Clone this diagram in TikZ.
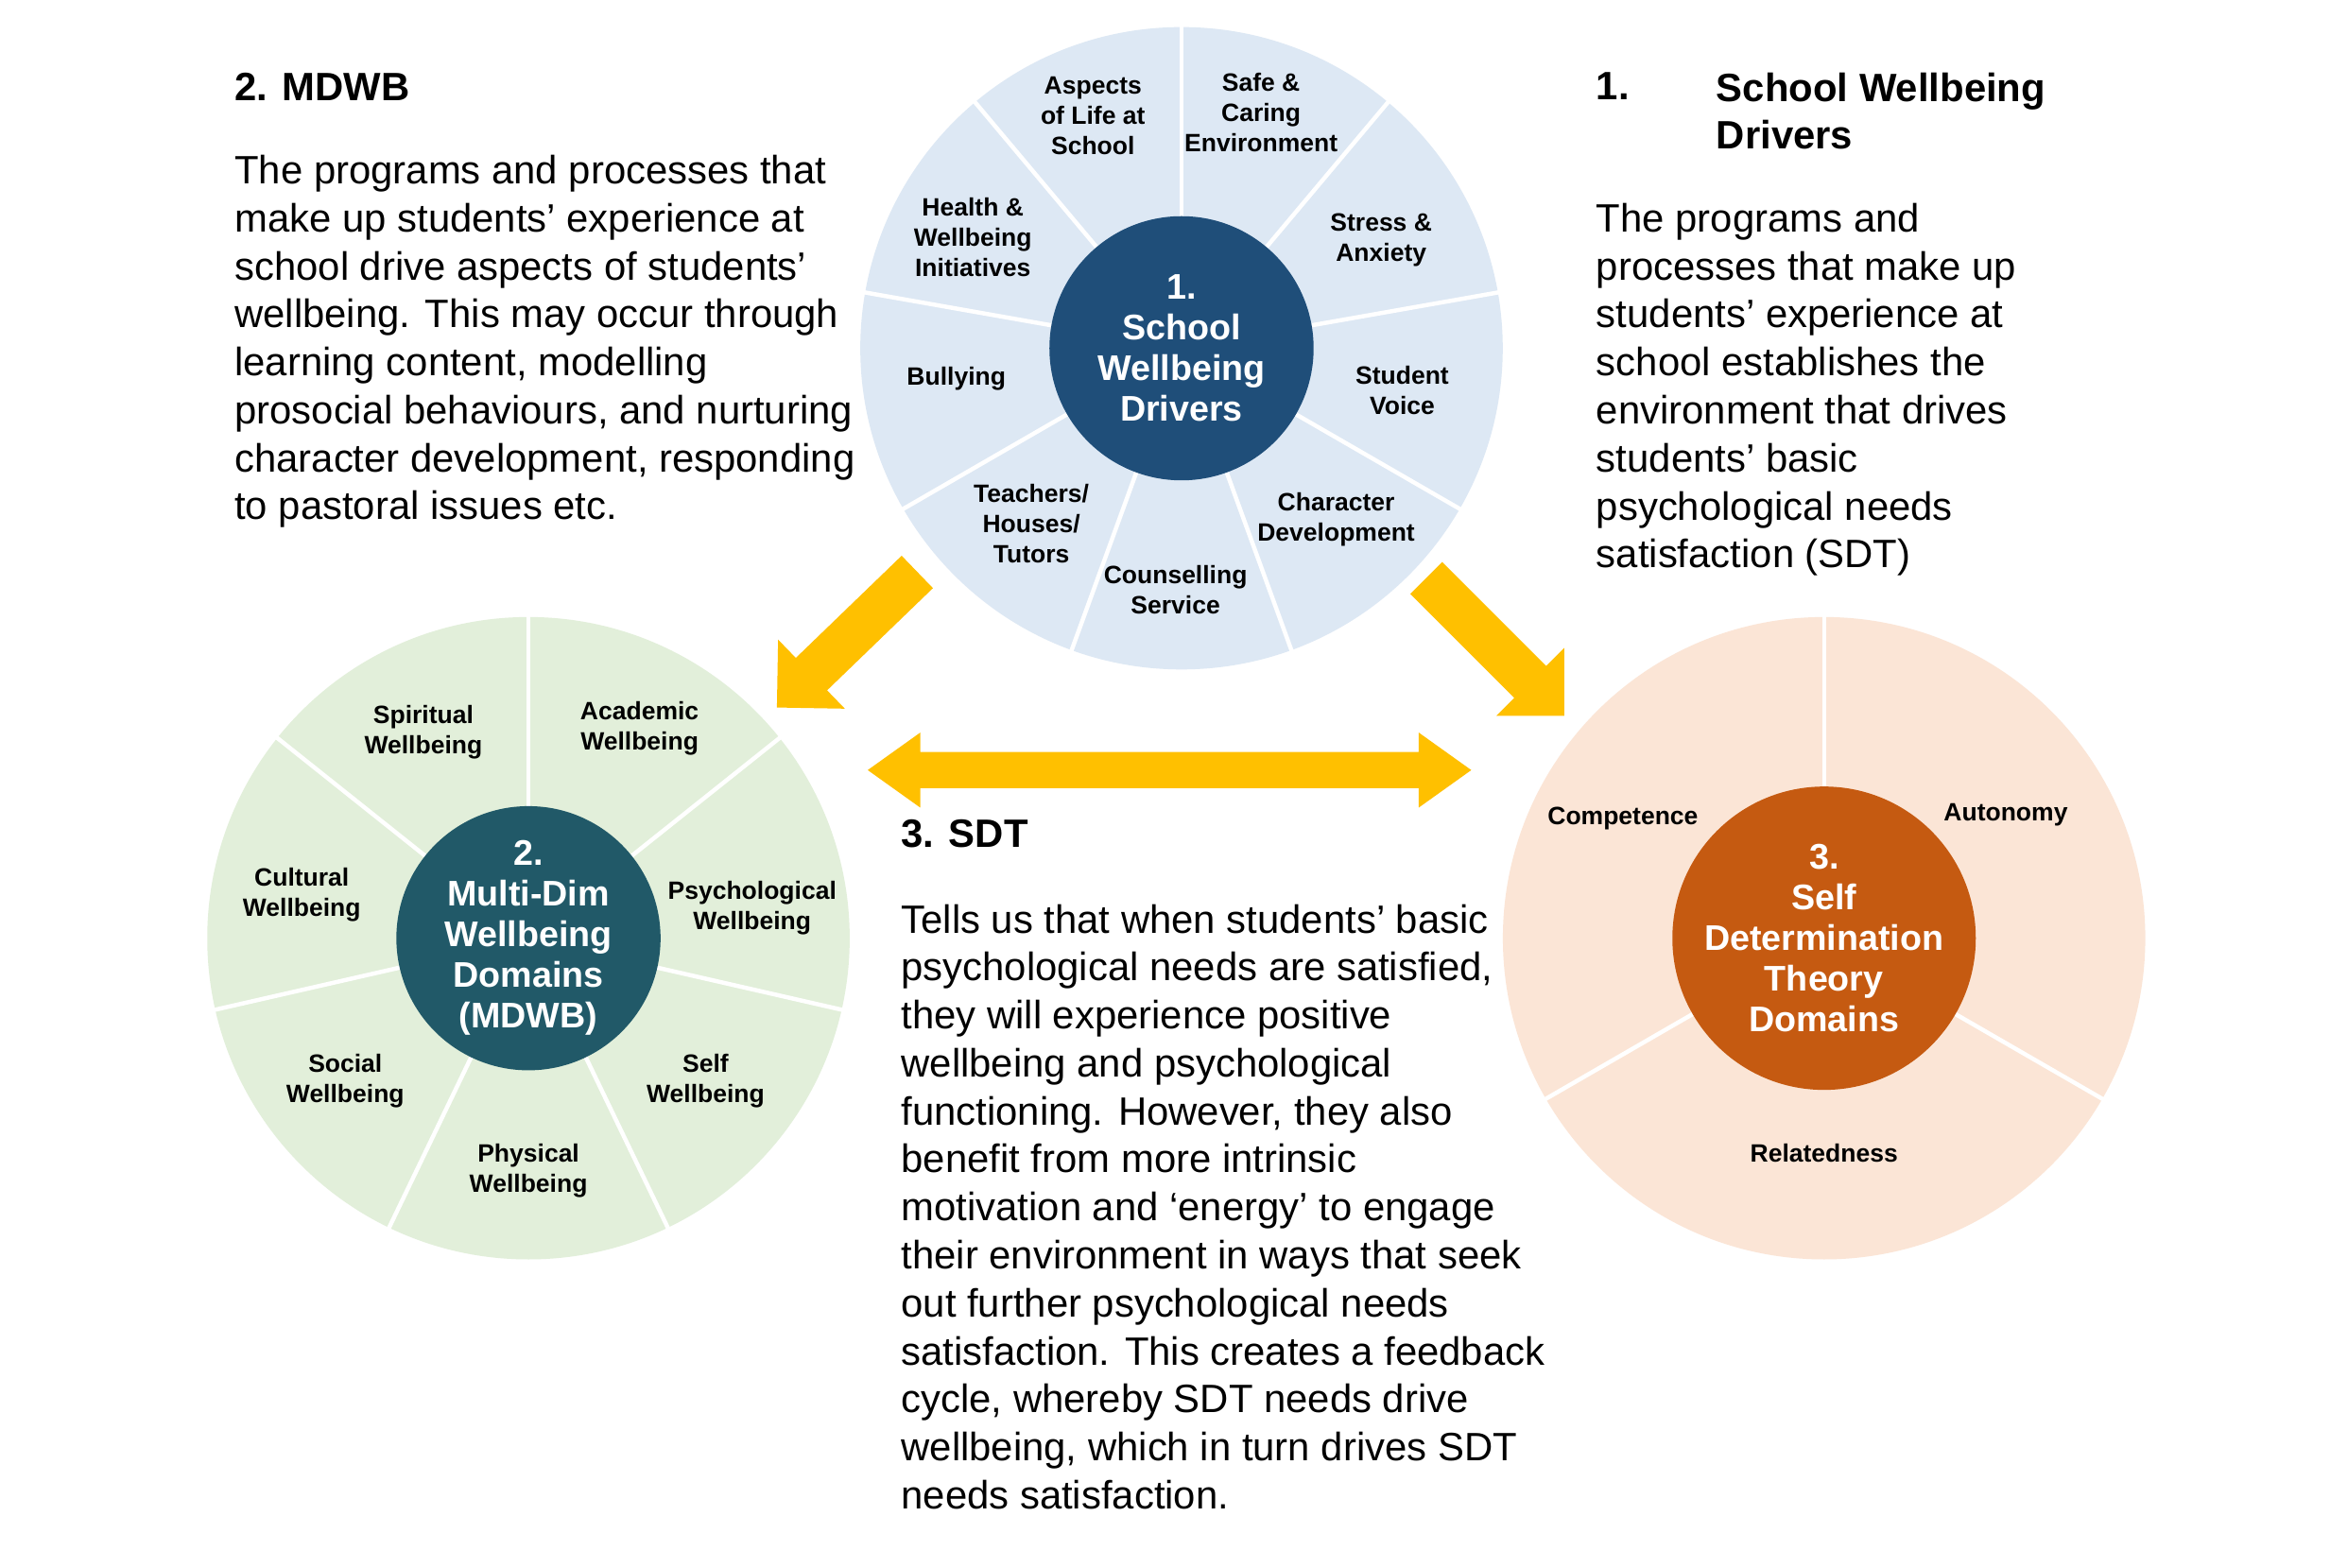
\documentclass[tikz,border=0pt]{standalone}
\usepackage{fontspec}
\setmainfont{Liberation Sans}
\definecolor{lb}{HTML}{DDE8F4}
\definecolor{db}{HTML}{1F4E79}
\definecolor{lg}{HTML}{E2EFDA}
\definecolor{dg}{HTML}{215968}
\definecolor{lo}{HTML}{FBE5D6}
\definecolor{do}{HTML}{C55A11}
\definecolor{yel}{HTML}{FFC000}
\tikzset{
  seg/.style={font=\bfseries\fontsize{9.5}{11.5}\selectfont, align=center},
  hub/.style={circle, minimum size=3.52cm, inner sep=0pt, text=white, font=\bfseries\fontsize{13.5}{15.4}\selectfont, align=center},
  wheel/.style={circle, minimum size=8.56cm, inner sep=0pt},
  sep/.style={white, line width=1.6pt},
  body/.style={anchor=north west, align=left, inner sep=0pt, font=\fontsize{15}{18.2}\selectfont},
  head/.style={anchor=north west, align=left, inner sep=0pt, font=\bfseries\fontsize{15}{18.2}\selectfont},
}
\newcommand\blockarr[8]{% x y angle L w h hl colour
  \begin{scope}[shift={(#1,#2)}, rotate=#3]
    \fill[#8] (0,#5) -- (#4-#7,#5) -- (#4-#7,#6) -- (#4,0) -- (#4-#7,-#6) -- (#4-#7,-#5) -- (0,-#5) -- cycle;
  \end{scope}}
\begin{document}
\begin{tikzpicture}[x=0.02cm, y=-0.02cm]
\useasboundingbox[fill=white] (0,0) rectangle (1552,1044);
% wheel 1
\node[wheel, fill=lb] (w1) at (787,232) {};
\foreach \a in {90,50,10,-30,-70,-110,-150,170,130}
  \draw[sep] (787,232) ++(-\a:88) -- ++(-\a:128);
\node[hub, fill=db] (h1) at (787,232) {1.\\School\\Wellbeing\\Drivers};
\node[seg] (s11) at (728,77) {Aspects\\of Life at\\School};
\node[seg] (s12) at (840,75) {Safe \&\\Caring\\Environment};
\node[seg] (s13) at (920,160) {Stress \&\\Anxiety};
\node[seg] (s14) at (934,260) {Student\\Voice};
\node[seg] (s15) at (890,346) {Character\\Development};
\node[seg] (s16) at (783,393) {Counselling\\Service};
\node[seg] (s17) at (687,349) {Teachers/\\Houses/\\Tutors};
\node[seg] (s18) at (637,252) {Bullying};
\node[seg] (s19) at (648,158) {Health \&\\Wellbeing\\Initiatives};
% wheel 2
\node[wheel, fill=lg] (w2) at (352,625) {};
\foreach \a in {90,38.57,-12.86,-64.29,-115.71,-167.14,141.43}
  \draw[sep] (352,625) ++(-\a:88) -- ++(-\a:130);
\node[hub, fill=dg] (h2) at (352,625) {2.\\Multi-Dim\\Wellbeing\\Domains\\(MDWB)};
\node[seg] (s21) at (282,488) {Spiritual\\Wellbeing};
\node[seg] (s22) at (426,485) {Academic\\Wellbeing};
\node[seg] (s23) at (501,605) {Psychological\\Wellbeing};
\node[seg] (s24) at (470,720) {Self\\Wellbeing};
\node[seg] (s25) at (352,780) {Physical\\Wellbeing};
\node[seg] (s26) at (230,720) {Social\\Wellbeing};
\node[seg] (s27) at (201,596) {Cultural\\Wellbeing};
% wheel 3
\node[wheel, fill=lo] (w3) at (1215,625) {};
\foreach \a in {90,-30,-150}
  \draw[sep] (1215,625) ++(-\a:88) -- ++(-\a:130);
\node[hub, fill=do] (h3) at (1215,625) {3.\\Self\\Determination\\Theory\\Domains};
\node[seg] (s31) at (1081,545) {Competence};
\node[seg] (s32) at (1336,543) {Autonomy};
\node[seg] (s33) at (1215,768) {Relatedness};
% arrows
\blockarr{611}{381}{224}{130}{15}{32}{32}{yel}
\blockarr{950}{385}{-45}{130}{15}{32}{32}{yel}
\begin{scope}[shift={(779,513)}]
\fill[yel] (-166,12) -- (166,12) -- (166,25) -- (201,0) -- (166,-25) -- (166,-12) -- (-166,-12) -- (-166,-25) -- (-201,0) -- (-166,25) -- cycle;
\end{scope}
% texts
\node[head] (t2h) at (156,48) {2. MDWB};
\node[body] (t2) at (156,103) {The programs and processes that\\make up students’ experience at\\school drive aspects of students’\\wellbeing. This may occur through\\learning content, modelling\\prosocial behaviours, and nurturing\\character development, responding\\to pastoral issues etc.};
\node[head] (t1n) at (1063,48) {1.};
\node[head] (t1h) at (1143,48) {School Wellbeing\\Drivers};
\node[body] (t1) at (1063,135) {The programs and\\processes that make up\\students’ experience at\\school establishes the\\environment that drives\\students’ basic\\psychological needs\\satisfaction (SDT)};
\node[head] (t3h) at (600,546) {3. SDT};
\node[body] (t3) at (600,602) {Tells us that when students’ basic\\psychological needs are satisfied,\\they will experience positive\\wellbeing and psychological\\functioning. However, they also\\benefit from more intrinsic\\motivation and ‘energy’ to engage\\their environment in ways that seek\\out further psychological needs\\satisfaction. This creates a feedback\\cycle, whereby SDT needs drive\\wellbeing, which in turn drives SDT\\needs satisfaction.};
\end{tikzpicture}
\end{document}
